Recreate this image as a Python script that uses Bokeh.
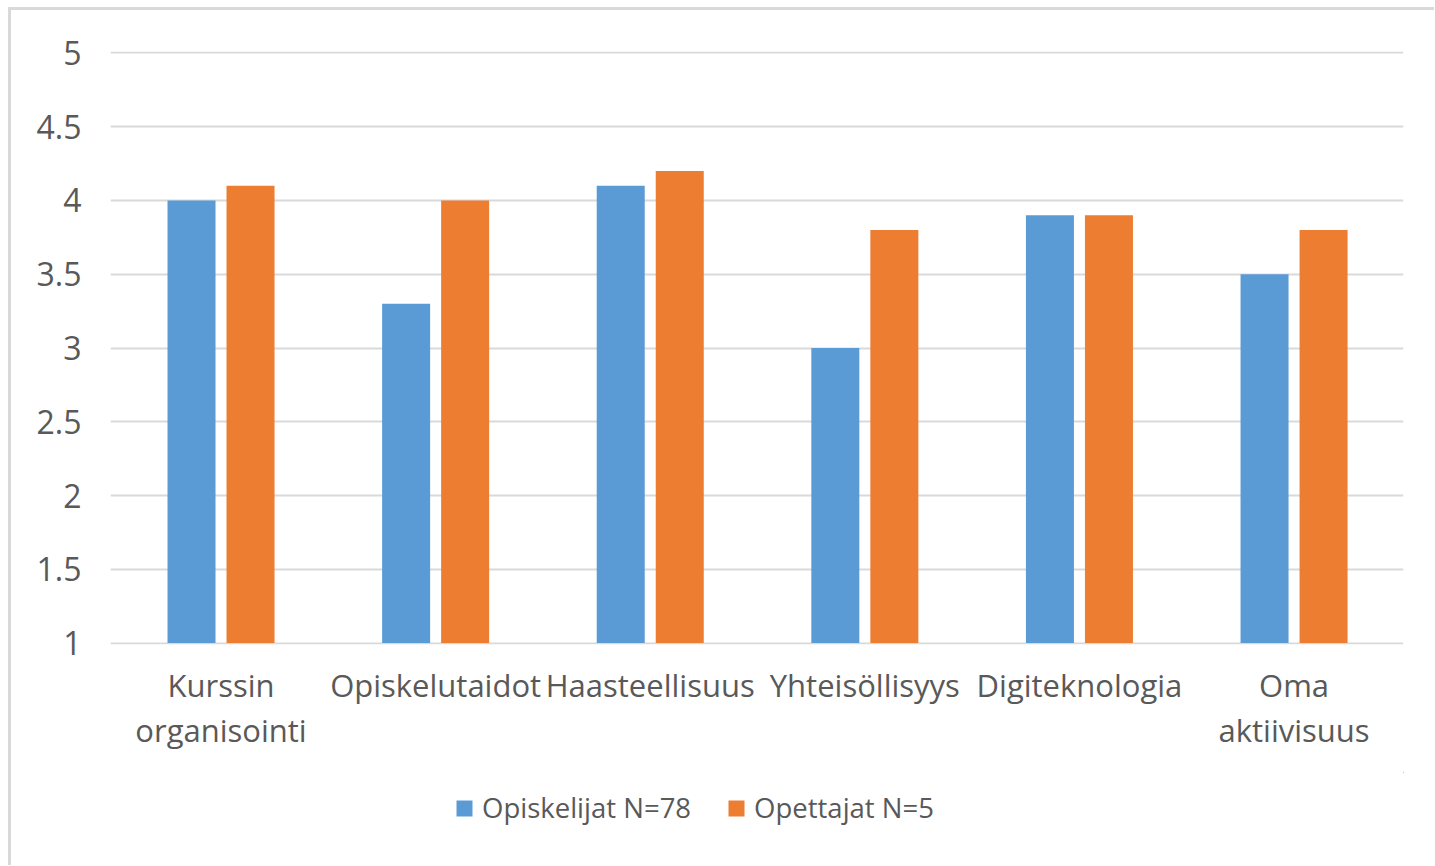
from bokeh.plotting import figure
from bokeh.layouts import column
from bokeh.models import (ColumnDataSource, Range1d, LinearAxis,
                          FixedTicker, NumeralTickFormatter, Legend, LegendItem)
from bokeh.transform import dodge
from bokeh.embed import file_html
from bokeh.resources import INLINE

categories = ["Kurssin organisointi", "Opiskelutaidot", "Haasteellisuus",
              "Yhteisöllisyys", "Digiteknologia", "Oma aktiivisuus"]
label_line1 = ["Kurssin", "Opiskelutaidot", "Haasteellisuus",
               "Yhteisöllisyys", "Digiteknologia", "Oma"]
label_line2 = ["organisointi", " ", " ", " ", " ", "aktiivisuus"]
opiskelijat = [4.0, 3.3, 4.1, 3.0, 3.9, 3.5]
opettajat = [4.1, 4.0, 4.2, 3.8, 3.9, 3.8]
series_names = ["Opiskelijat N=78", "Opettajat N=5"]
y_ticks = [1, 1.5, 2, 2.5, 3, 3.5, 4, 4.5, 5]

FONT = "Open Sans"
TXT = "#595959"
BLUE = "#5B9BD5"
ORANGE = "#ED7D31"
BORDER = "3px solid #d9d9d9"

pos = list(range(len(categories)))
source = ColumnDataSource(data=dict(pos=pos, s1=opiskelijat, s2=opettajat,
                                    base=[y_ticks[0]] * len(categories)))

p = figure(x_range=Range1d(-0.515, len(categories) - 0.49),
           y_range=Range1d(y_ticks[0] - 0.01, y_ticks[-1] + 0.01),
           frame_width=1293, frame_height=593,
           min_border_left=99, min_border_right=31, min_border_top=41, min_border_bottom=128,
           x_axis_location=None, output_backend="svg", toolbar_location=None,
           background_fill_color="white", border_fill_color="white")
p.outline_line_color = None

p.ygrid.ticker = FixedTicker(ticks=y_ticks)
p.ygrid.grid_line_color = "#d9d9d9"
p.ygrid.grid_line_width = 2
p.xgrid.grid_line_color = None

r1 = p.vbar(x=dodge("pos", -0.1375), top="s1", bottom="base", width=0.2237,
            source=source, fill_color=BLUE, line_color=None)
r2 = p.vbar(x=dodge("pos", 0.1375), top="s2", bottom="base", width=0.2237,
            source=source, fill_color=ORANGE, line_color=None)

# y axis
p.yaxis.ticker = FixedTicker(ticks=y_ticks)
p.yaxis.formatter = NumeralTickFormatter(format="0.[0]")
p.yaxis.axis_line_color = None
p.yaxis.major_tick_line_color = None
p.yaxis.minor_tick_line_color = None
p.yaxis.major_label_standoff = 23
p.yaxis.major_label_text_font = FONT
p.yaxis.major_label_text_font_size = "32px"
p.yaxis.major_label_text_color = TXT

# two stacked axes for two-line category labels
ax1 = LinearAxis(ticker=FixedTicker(ticks=pos),
                 major_label_overrides=dict(zip(pos, label_line1)))
ax2 = LinearAxis(ticker=FixedTicker(ticks=pos),
                 major_label_overrides=dict(zip(pos, label_line2)))
for ax, so in ((ax1, 13), (ax2, -6)):
    ax.axis_line_color = None
    ax.major_tick_line_color = None
    ax.minor_tick_line_color = None
    ax.major_label_standoff = so
    ax.major_label_text_font = FONT
    ax.major_label_text_font_size = "31px"
    ax.major_label_text_color = TXT
p.add_layout(ax1, "below")
p.add_layout(ax2, "below")

# legend strip below the chart; its series use the same source, outside the strip's view
lg = figure(width=1423, height=93, x_range=Range1d(-20, -19), y_range=Range1d(-20, -19),
            min_border=0, x_axis_location=None, y_axis_location=None,
            output_backend="svg", toolbar_location=None,
            background_fill_color="white", border_fill_color="white")
lg.outline_line_color = None
lg.grid.grid_line_color = None
g1 = lg.vbar(x="pos", top="s1", bottom="base", width=0.2, source=source,
             fill_color=BLUE, line_color=None)
g2 = lg.vbar(x="pos", top="s2", bottom="base", width=0.2, source=source,
             fill_color=ORANGE, line_color=None)

legend = Legend(items=[LegendItem(label=series_names[0], renderers=[g1]),
                       LegendItem(label=series_names[1], renderers=[g2])],
                orientation="horizontal", location=(344, 39),
                glyph_width=20, glyph_height=20, label_standoff=8, spacing=35,
                padding=0, margin=0, border_line_color=None, background_fill_alpha=0,
                label_text_font=FONT, label_text_font_size="27.5px", label_text_color=TXT,
                label_height=30)
lg.add_layout(legend)

layout = column(p, lg, spacing=0)
layout.styles = {"border-top": BORDER, "border-left": BORDER,
                 "margin-top": "7px", "margin-left": "8px"}

open("out.html", "w").write(file_html(layout, INLINE))
